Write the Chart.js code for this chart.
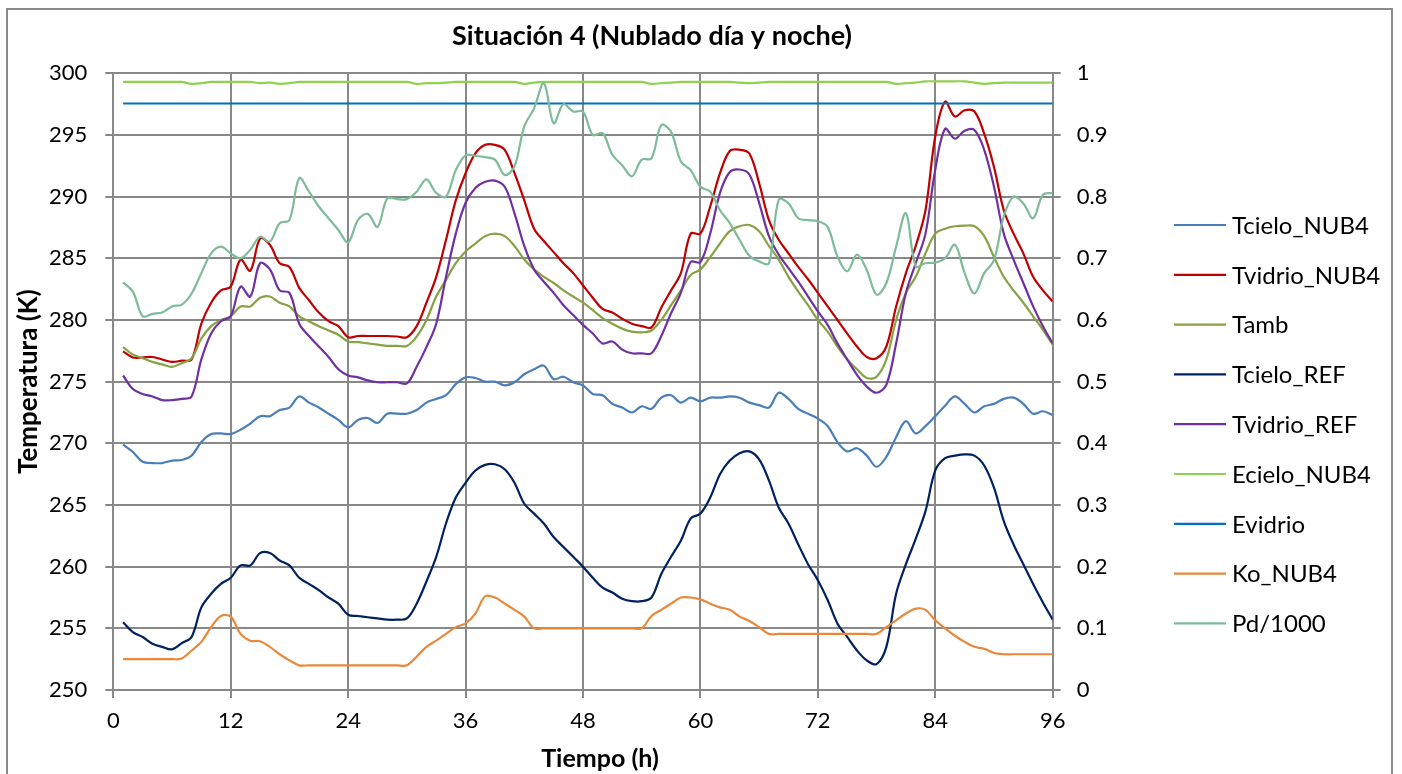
<!DOCTYPE html>
<html lang="es">
<head>
<meta charset="utf-8">
<title>Situación 4 (Nublado día y noche)</title>
<script src="https://cdn.jsdelivr.net/npm/chart.js@4.4.1/dist/chart.umd.min.js"></script>
<style>
  html, body { margin: 0; padding: 0; background: #fff; }
  #chart { display: block; }
</style>
</head>
<body>
<canvas id="chart" width="1402" height="774"></canvas>
<script>
// horas (eje X)
const hours = [1,2,3,4,5,6,7,8,9,10,11,12,13,14,15,16,17,18,19,20,21,22,23,24,
  25,26,27,28,29,30,31,32,33,34,35,36,37,38,39,40,41,42,43,44,45,46,47,48,
  49,50,51,52,53,54,55,56,57,58,59,60,61,62,63,64,65,66,67,68,69,70,71,72,
  73,74,75,76,77,78,79,80,81,82,83,84,85,86,87,88,89,90,91,92,93,94,95,96];

// temperaturas (K) - eje izquierdo
const tcieloNub4 = [269.9,269.3,268.5,268.4,268.4,268.6,268.65,269.0,270.1,270.75,270.8,270.75,
  271.1,271.6,272.2,272.2,272.7,272.9,273.8,273.3,272.9,272.4,271.9,271.3,
  271.9,272.05,271.65,272.4,272.4,272.4,272.7,273.3,273.6,273.9,274.8,275.35,
  275.3,275.0,275.0,274.7,274.95,275.6,276.0,276.3,275.2,275.4,274.95,274.7,
  274.0,273.9,273.2,272.9,272.5,273.0,272.8,273.7,273.9,273.3,273.7,273.4,
  273.7,273.7,273.8,273.7,273.3,273.1,272.9,274.1,273.6,272.8,272.4,272.0,
  271.4,270.1,269.35,269.6,269.0,268.1,268.9,270.5,271.8,270.8,271.4,272.2,
  273.05,273.8,273.2,272.5,273.0,273.2,273.6,273.7,273.2,272.4,272.6,272.3];

const tvidrioNub4 = [277.45,276.96,276.96,277.0,276.8,276.6,276.7,276.8,279.7,281.4,282.4,282.7,
  284.9,284.0,286.6,286.1,284.6,284.3,282.6,281.6,280.6,279.9,279.5,278.6,
  278.7,278.7,278.7,278.7,278.66,278.6,279.5,281.4,283.5,286.5,289.7,291.9,
  293.5,294.2,294.2,293.8,291.9,289.7,287.4,286.4,285.5,284.6,283.8,282.8,
  281.8,280.9,280.6,280.1,279.7,279.5,279.4,281.0,282.4,283.8,287.0,287.0,
  289.2,291.9,293.7,293.8,293.5,291.1,288.1,286.5,285.4,284.3,283.3,282.2,
  281.1,280.0,278.9,277.85,277.0,276.9,277.85,281.1,283.8,286.0,288.9,294.9,
  297.7,296.5,297.0,296.9,295.1,292.4,288.9,287.0,285.4,283.5,282.4,281.5];

const tamb = [277.8,277.2,276.9,276.6,276.4,276.2,276.5,276.9,278.5,279.5,280.0,280.3,
  281.1,281.1,281.8,281.9,281.4,281.1,280.3,279.9,279.5,279.15,278.8,278.25,
  278.2,278.1,278.0,277.9,277.9,277.9,278.65,280.0,281.9,283.25,284.6,285.55,
  286.2,286.8,287.0,286.8,286.0,284.9,284.1,283.5,283.0,282.4,281.9,281.4,
  280.8,280.15,279.7,279.3,279.05,279.0,279.15,280.0,281.2,282.4,283.65,284.1,
  285.1,286.2,287.2,287.6,287.7,287.2,286.0,284.9,283.5,282.3,281.2,280.0,
  279.05,277.85,276.8,276.0,275.3,275.4,276.8,280.0,282.2,283.5,285.4,287.0,
  287.4,287.6,287.65,287.6,286.8,285.1,283.5,282.4,281.4,280.3,279.2,278.0];

const tcieloRef = [255.5,254.7,254.3,253.75,253.5,253.3,253.8,254.3,256.7,257.8,258.6,259.1,
  260.1,260.1,261.1,261.1,260.5,260.1,259.1,258.6,258.1,257.5,257.0,256.1,
  256.0,255.9,255.8,255.7,255.7,255.8,257.0,258.8,260.8,263.5,265.6,266.8,
  267.8,268.25,268.3,267.9,266.8,265.1,264.3,263.5,262.4,261.6,260.8,260.0,
  259.1,258.3,257.9,257.4,257.2,257.2,257.5,259.4,260.8,262.1,263.9,264.3,
  265.6,267.5,268.6,269.2,269.35,268.7,267.0,264.8,263.5,261.8,260.2,258.9,
  257.3,255.4,254.3,253.2,252.4,252.1,253.5,257.8,260.2,262.25,264.5,267.8,
  268.8,269.0,269.1,269.0,268.2,266.4,263.7,261.8,260.2,258.6,257.1,255.7];

const tvidrioRef = [275.5,274.4,274.0,273.8,273.5,273.5,273.6,273.8,276.8,278.9,279.9,280.3,
  282.7,281.9,284.6,284.1,282.4,282.2,279.7,278.7,277.85,277.0,276.0,275.5,
  275.35,275.1,274.95,274.95,274.95,274.85,276.2,277.8,279.7,283.5,287.0,289.5,
  290.7,291.2,291.3,290.8,288.65,286.0,284.1,283.1,282.2,281.2,280.4,279.6,
  278.9,278.1,278.25,277.6,277.3,277.3,277.3,278.7,280.55,282.2,284.7,284.7,
  287.0,290.3,292.0,292.2,291.8,289.5,286.8,285.3,284.2,283.1,281.9,280.7,
  279.6,278.1,276.8,275.55,274.6,274.1,274.75,278.1,282.2,284.6,287.0,292.2,
  295.5,294.7,295.35,295.4,293.8,290.8,287.0,284.9,283.0,281.1,279.5,278.1];

// emisividades, Ko y Pd/1000 - eje derecho
const ecieloNub4 = [0.986,0.986,0.986,0.986,0.986,0.986,0.986,0.983,0.984,0.986,0.986,0.986,
  0.986,0.986,0.984,0.985,0.983,0.984,0.986,0.986,0.986,0.986,0.986,0.986,
  0.986,0.986,0.986,0.986,0.986,0.986,0.983,0.984,0.984,0.985,0.986,0.986,
  0.986,0.986,0.986,0.986,0.986,0.983,0.985,0.986,0.986,0.986,0.986,0.986,
  0.986,0.986,0.986,0.986,0.986,0.986,0.983,0.984,0.985,0.986,0.986,0.986,
  0.986,0.986,0.986,0.985,0.984,0.985,0.986,0.986,0.986,0.986,0.986,0.986,
  0.986,0.986,0.986,0.986,0.986,0.986,0.986,0.983,0.984,0.985,0.987,0.987,
  0.987,0.987,0.987,0.985,0.983,0.984,0.985,0.985,0.985,0.985,0.985,0.985];

const evidrio = [0.951,0.951,0.951,0.951,0.951,0.951,0.951,0.951,0.951,0.951,0.951,0.951,
  0.951,0.951,0.951,0.951,0.951,0.951,0.951,0.951,0.951,0.951,0.951,0.951,
  0.951,0.951,0.951,0.951,0.951,0.951,0.951,0.951,0.951,0.951,0.951,0.951,
  0.951,0.951,0.951,0.951,0.951,0.951,0.951,0.951,0.951,0.951,0.951,0.951,
  0.951,0.951,0.951,0.951,0.951,0.951,0.951,0.951,0.951,0.951,0.951,0.951,
  0.951,0.951,0.951,0.951,0.951,0.951,0.951,0.951,0.951,0.951,0.951,0.951,
  0.951,0.951,0.951,0.951,0.951,0.951,0.951,0.951,0.951,0.951,0.951,0.951,
  0.951,0.951,0.951,0.951,0.951,0.951,0.951,0.951,0.951,0.951,0.951,0.951];

const koNub4 = [0.05,0.05,0.05,0.05,0.05,0.05,0.051,0.064,0.078,0.102,0.12,0.119,
  0.091,0.08,0.079,0.07,0.058,0.048,0.04,0.04,0.04,0.04,0.04,0.04,
  0.04,0.04,0.04,0.04,0.04,0.04,0.054,0.07,0.08,0.091,0.102,0.108,
  0.124,0.152,0.15,0.14,0.13,0.119,0.10,0.10,0.10,0.10,0.10,0.10,
  0.10,0.10,0.10,0.10,0.10,0.10,0.12,0.13,0.14,0.15,0.15,0.147,
  0.14,0.134,0.13,0.119,0.112,0.102,0.091,0.091,0.091,0.091,0.091,0.091,
  0.091,0.091,0.091,0.091,0.091,0.091,0.102,0.113,0.124,0.132,0.13,0.113,
  0.10,0.088,0.078,0.07,0.067,0.06,0.058,0.058,0.058,0.058,0.058,0.058];

const pd1000 = [0.661,0.646,0.606,0.61,0.612,0.622,0.625,0.643,0.676,0.708,0.719,0.708,
  0.70,0.714,0.735,0.727,0.757,0.762,0.83,0.808,0.784,0.765,0.746,0.726,
  0.762,0.772,0.751,0.797,0.796,0.796,0.808,0.828,0.806,0.80,0.843,0.867,
  0.866,0.864,0.86,0.835,0.849,0.914,0.943,0.984,0.919,0.95,0.938,0.938,
  0.90,0.903,0.868,0.851,0.833,0.86,0.862,0.916,0.905,0.857,0.843,0.816,
  0.808,0.778,0.757,0.73,0.704,0.695,0.692,0.795,0.789,0.765,0.762,0.76,
  0.751,0.703,0.679,0.706,0.681,0.641,0.66,0.719,0.773,0.687,0.692,0.693,
  0.70,0.722,0.676,0.643,0.676,0.697,0.768,0.80,0.789,0.765,0.803,0.806];

const leftTicks = { min: 250, max: 300, step: 5 };
const rightTicks = { min: 0, max: 1, step: 0.1 };
const xTicks = { min: 0, max: 96, step: 12 };

const gridColor = "#888888";
const fontFamily = "Lato, 'Noto Sans', sans-serif";

Chart.defaults.font.family = fontFamily;
Chart.defaults.color = "#000";

function serie(label, data, color, axis) {
  return {
    label: label,
    data: data,
    yAxisID: axis,
    borderColor: color,
    backgroundColor: color,
    borderWidth: 2.2,
    pointRadius: 0,
    tension: 0.35,
    fill: false
  };
}

const datasets = [
  serie("Tcielo_NUB4", tcieloNub4, "#4a7ebb", "y"),
  serie("Tvidrio_NUB4", tvidrioNub4, "#c00000", "y"),
  serie("Tamb", tamb, "#86a244", "y"),
  serie("Tcielo_REF", tcieloRef, "#002060", "y"),
  serie("Tvidrio_REF", tvidrioRef, "#7030a0", "y"),
  serie("Ecielo_NUB4", ecieloNub4, "#92d050", "y1"),
  serie("Evidrio", evidrio, "#0070c0", "y1"),
  serie("Ko_NUB4", koNub4, "#e8883a", "y1"),
  serie("Pd/1000", pd1000, "#7dbb99", "y1")
];
// Excel pinta la última serie encima
datasets.forEach((d, i) => { d.order = datasets.length - i; });

// fondo y marco del gráfico
const framePlugin = {
  id: "frame",
  beforeDraw(chart) {
    const ctx = chart.ctx;
    ctx.save();
    ctx.fillStyle = "#fff";
    ctx.fillRect(0, 0, chart.width, chart.height);
    ctx.strokeStyle = "#8a8a8a";
    ctx.lineWidth = 2;
    ctx.strokeRect(7, 9, 1385, 800);
    ctx.restore();
  }
};

// leyenda a la derecha y título del eje X, como en Excel
const legendPlugin = {
  id: "sideLegend",
  afterDraw(chart) {
    const ctx = chart.ctx;
    ctx.save();
    ctx.font = "24px " + fontFamily;
    ctx.textBaseline = "middle";
    ctx.textAlign = "left";
    chart.data.datasets.forEach((d, i) => {
      const y = 225 + i * 49.8;
      ctx.strokeStyle = d.borderColor;
      ctx.lineWidth = 2.2;
      ctx.beginPath();
      ctx.moveTo(1174, y);
      ctx.lineTo(1226, y);
      ctx.stroke();
      ctx.fillStyle = "#000";
      ctx.fillText(d.label, 1232, y + 1);
    });

    ctx.font = "bold 25px " + fontFamily;
    ctx.textAlign = "center";
    ctx.fillText("Tiempo (h)", 600, 759);
    ctx.restore();
  }
};

new Chart(document.getElementById("chart"), {
  type: "line",
  data: { labels: hours, datasets: datasets },
  options: {
    responsive: false,
    animation: false,
    layout: { padding: { left: 0, top: 0, right: 98, bottom: 0 } },
    plugins: {
      legend: { display: false },
      tooltip: { enabled: false },
      title: {
        display: true,
        text: "Situación 4 (Nublado día y noche)",
        font: { size: 27, weight: "bold" },
        color: "#000",
        padding: { top: 20, bottom: 20.9 }
      }
    },
    scales: {
      x: {
        type: "linear",
        min: xTicks.min,
        max: xTicks.max,
        ticks: { stepSize: xTicks.step, font: { size: 22 }, padding: 10, color: "#000" },
        grid: { color: gridColor, lineWidth: 2, tickLength: 8 },
        border: { color: gridColor, width: 2 },
        title: { display: false },
        afterFit(scale) { scale.height = 84; }
      },
      y: {
        position: "left",
        min: leftTicks.min,
        max: leftTicks.max,
        ticks: { stepSize: leftTicks.step, font: { size: 22 }, padding: 18, color: "#000" },
        grid: { color: gridColor, lineWidth: 2, tickLength: 8 },
        border: { color: gridColor, width: 2 },
        title: { display: true, text: "Temperatura (K)", font: { size: 26, weight: "bold" }, padding: { top: 13, bottom: 0 } },
        afterFit(scale) { scale.width = 113.3; }
      },
      y1: {
        position: "right",
        min: rightTicks.min,
        max: rightTicks.max,
        ticks: {
          stepSize: rightTicks.step,
          font: { size: 22 },
          padding: 16,
          color: "#000",
          callback: v => String(Math.round(v * 10) / 10)
        },
        grid: { drawOnChartArea: false, color: gridColor, lineWidth: 2, tickLength: 8 },
        border: { color: gridColor, width: 2 },
        afterFit(scale) { scale.width = 1402 - 98 - 1052.7; }
      }
    }
  },
  plugins: [framePlugin, legendPlugin]
});
</script>
</body>
</html>
